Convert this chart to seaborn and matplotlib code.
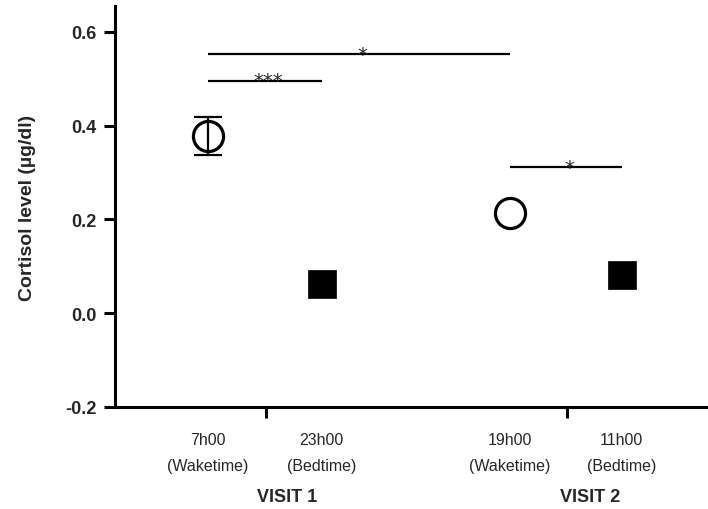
import matplotlib
matplotlib.use("Agg")
import matplotlib.pyplot as plt
import matplotlib.transforms as mtransforms
import seaborn as sns
import pandas as pd

# ---- data ----
x_pos = [1.0, 2.0, 3.65, 4.63]
time_labels = ["7h00\n(Waketime)", "23h00\n(Bedtime)", "19h00\n(Waketime)", "11h00\n(Bedtime)"]
moment = ["Waketime", "Bedtime", "Waketime", "Bedtime"]
cortisol = [0.378, 0.062, 0.213, 0.081]
cortisol_err = [0.040, 0.0, 0.0, 0.0]
visit_labels = ["VISIT 1", "VISIT 2"]
visit_ticks = [1.51, 4.15]
visit_label_x = [1.70, 4.35]
y_ticks = [-0.2, 0.0, 0.2, 0.4, 0.6]
sig_pairs = [(0, 1), (0, 2), (2, 3)]
sig_heights = [0.496, 0.552, 0.311]
sig_text = ["***", "*", "*"]

df = pd.DataFrame({"x": x_pos, "cortisol": cortisol, "moment": moment, "err": cortisol_err})

sns.set_style("ticks")
plt.rcParams["font.family"] = ["Liberation Sans", "DejaVu Sans"]

fig = plt.figure(figsize=(7.08, 5.10), dpi=100)
ax = fig.add_axes([0.162, 0.2, 0.838, 0.786])

wake = df[df["moment"] == "Waketime"]
bed = df[df["moment"] == "Bedtime"]
sns.scatterplot(data=wake, x="x", y="cortisol", marker="o", s=470,
                facecolor="white", edgecolor="black", linewidth=2.3, ax=ax, zorder=3)
sns.scatterplot(data=bed, x="x", y="cortisol", marker="s", s=400,
                color="black", edgecolor="black", linewidth=0.5, ax=ax, zorder=3)
errd = df[df["err"] > 0]
ax.errorbar(errd["x"], errd["cortisol"], yerr=errd["err"], fmt="none",
            ecolor="black", elinewidth=1.6, capsize=10, capthick=1.6, zorder=4)

# significance bars
for (i, j), h, t in zip(sig_pairs, sig_heights, sig_text):
    ax.plot([x_pos[i], x_pos[j]], [h, h], color="black", lw=1.6, solid_capstyle="butt")
    ax.text((x_pos[i] + x_pos[j]) / 2 + 0.03, h - 0.012, t, ha="center", va="baseline",
            fontsize=14, family="DejaVu Sans")

ax.set_xlim(0.184, 5.386)
ax.set_ylim(-0.2, 0.655)
ax.set_yticks(y_ticks)
ax.set_yticklabels([f"{v:.1f}" for v in y_ticks], fontweight="bold", fontsize=13)

ax.set_xticks(visit_ticks)
ax.set_xticklabels(["", ""])
ax.set_xticks(x_pos, minor=True)
ax.set_xticklabels(time_labels, minor=True, fontsize=11.5, linespacing=1.9)
ax.tick_params(axis="x", which="minor", length=0, pad=18)
ax.tick_params(axis="both", which="major", length=8, width=2.2, color="black")
ax.tick_params(axis="y", pad=5)

trans = mtransforms.blended_transform_factory(ax.transData, fig.transFigure)
for xv, lab in zip(visit_label_x, visit_labels):
    fig.text(xv, 1 - 498 / 510, lab, transform=trans, ha="center", va="center",
             fontsize=13, fontweight="bold")

ax.set_xlabel("")
ax.set_ylabel("Cortisol level (µg/dl)", fontsize=14, fontweight="bold", labelpad=21)

for side in ["top", "right"]:
    ax.spines[side].set_visible(False)
for side in ["left", "bottom"]:
    ax.spines[side].set_linewidth(2.2)
    ax.spines[side].set_color("black")

if ax.get_legend() is not None:
    ax.get_legend().remove()

fig.savefig("out.png", dpi=100)
